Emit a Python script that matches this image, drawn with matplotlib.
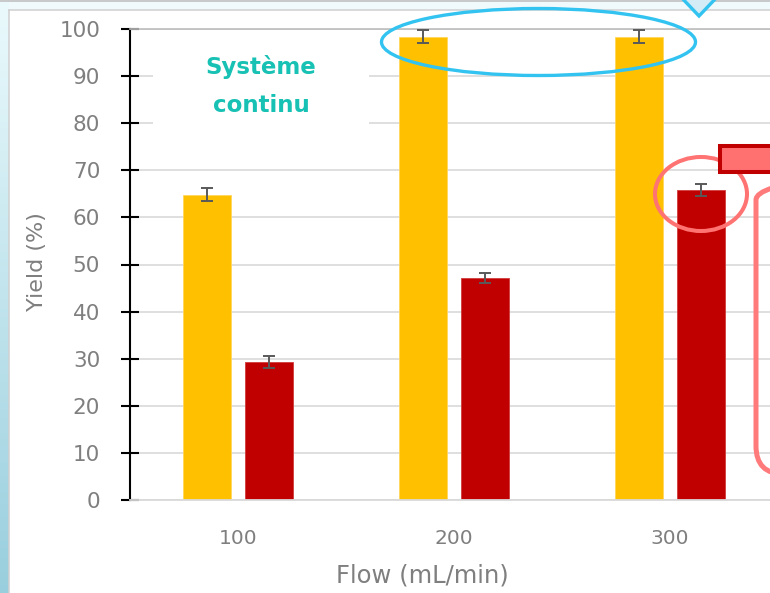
import numpy as np
import matplotlib
matplotlib.use("Agg")
import matplotlib.pyplot as plt
import matplotlib.patches as patches
from matplotlib.transforms import IdentityTransform

# --- données ---
flows = ["100", "200", "300"]
yield_a = [64.8, 98.4, 98.4]       # barres jaunes
err_a = [1.35, 1.4, 1.35]
yield_b = [29.3, 47.2, 65.8]       # barres rouges
err_b = [1.3, 1.1, 1.35]

W, H = 770, 593
cor_jaune = '#FFC000'
cor_vermelho = '#C00000'
cor_texto = '#7f7f7f'
cor_grade = '#d9d9d9'

fig = plt.figure(figsize=(W / 100, H / 100), dpi=100, facecolor='white')

def px(x, y):
    # coordonnées image (origine en haut à gauche) -> pixels d'affichage
    return x, H - y

# --- fond de diapositive : bande à gauche + bande en haut ---
ax_bg = fig.add_axes([0, 0, 9 / W, 1])
grad = np.linspace(0, 1, 200)[:, None]
top_c = np.array([0.92, 0.98, 0.99])
bot_c = np.array([0.60, 0.81, 0.87])
img = top_c[None, None, :] * (1 - grad[:, :, None]) + bot_c[None, None, :] * grad[:, :, None]
ax_bg.imshow(img, aspect='auto', extent=[0, 1, 0, 1])
ax_bg.axis('off')

fig.add_artist(patches.Rectangle(px(9, 10), W, 10, transform=IdentityTransform(),
                                 fc='#f0fafd', ec='none', zorder=0))
fig.add_artist(plt.Line2D([0, W], [H - 1, H - 1], transform=IdentityTransform(),
                          color='#c0c0c0', lw=1.2))
fig.add_artist(plt.Line2D([9, W], [H - 10, H - 10], transform=IdentityTransform(),
                          color='#d0d0d0', lw=1.1))
fig.add_artist(plt.Line2D([9, 9], [0, H - 10], transform=IdentityTransform(),
                          color='#d0d0d0', lw=1.1))

# --- graphique ---
x0, x1 = 130, 778
y_top, y_bot = 29, 500
ax = fig.add_axes([x0 / W, (H - y_bot) / H, (x1 - x0) / W, (y_bot - y_top) / H])
ax.set_facecolor('none')

x = np.arange(len(flows))
larg = 0.2245
dx = 0.1426
ax.bar(x - dx, yield_a, larg, color=cor_jaune, ec='#ffd65c', lw=0.6, zorder=2)
ax.bar(x + dx, yield_b, larg, color=cor_vermelho, ec='#d23a3a', lw=0.6, zorder=2)
ax.errorbar(x - dx, yield_a, yerr=err_a, fmt='none', ecolor='#595959',
            elinewidth=1.4, capsize=4.3, capthick=1.4, zorder=3)
ax.errorbar(x + dx, yield_b, yerr=err_b, fmt='none', ecolor='#595959',
            elinewidth=1.4, capsize=4.3, capthick=1.4, zorder=3)

ax.set_xlim(-0.5, 2.5)
ax.set_ylim(0, 100)
ax.set_yticks(range(0, 101, 10))
ax.set_xticks(x)
ax.set_xticklabels(flows)
ax.set_axisbelow(True)
ax.yaxis.grid(True, color=cor_grade, lw=1.2)

ax.spines['right'].set_visible(False)
ax.spines['top'].set_color('#bdbdbd')
ax.spines['top'].set_linewidth(1.2)
ax.spines['bottom'].set_color(cor_grade)
ax.spines['bottom'].set_linewidth(1.3)
ax.spines['left'].set_color('black')
ax.spines['left'].set_linewidth(1.5)
ax.tick_params(axis='y', direction='inout', length=13, width=1.5, color='black',
               labelsize=15.5, labelcolor=cor_texto, pad=15)
ax.tick_params(axis='x', length=0, labelsize=14.5, labelcolor=cor_texto, pad=21)

fig.text(422 / W, (H - 575) / H, "Flow (mL/min)", ha='center', va='center',
         fontsize=17.5, color=cor_texto)
fig.text(37 / W, (H - 262) / H, "Yield (%)", ha='center', va='center',
         rotation=90, fontsize=16, color=cor_texto)

# encadré blanc derrière le texte
ax.add_patch(patches.Rectangle(px(153, 160), 216, 125, transform=IdentityTransform(),
                               fc='white', ec='none', zorder=1, clip_on=False))
fig.text(261 / W, (H - 74) / H, "Système", ha='center', va='baseline',
         fontsize=16.5, fontweight='bold', color='#17c1b3')
fig.text(261 / W, (H - 112) / H, "continu", ha='center', va='baseline',
         fontsize=16.5, fontweight='bold', color='#17c1b3')

# --- formes d'annotation ---
fig.add_artist(patches.Ellipse(px(538.5, 42), 314, 67, transform=IdentityTransform(),
                               fc='none', ec='#33c3f0', lw=2.4, zorder=5))
fig.add_artist(patches.Polygon([px(660, -25), px(738, -25), px(699, 16)], closed=True,
                               transform=IdentityTransform(), fc='#d3ecf5',
                               ec='#33c3f0', lw=2.4, zorder=5))
fig.add_artist(patches.Ellipse(px(701, 194), 92, 74, transform=IdentityTransform(),
                               fc='none', ec='#ff7373', lw=2.9, zorder=5))
fig.add_artist(patches.FancyBboxPatch(px(756, 474), 300, 302,
                                      boxstyle='round,pad=0,rounding_size=28',
                                      transform=IdentityTransform(), fc='none',
                                      ec='#ff7b7b', lw=3.6, zorder=5))
fig.add_artist(patches.Rectangle(px(720, 172), 120, 26, transform=IdentityTransform(),
                                 fc='#ff7070', ec='#c00000', lw=2.9, zorder=6))

fig.savefig('out.png', dpi=100, facecolor=fig.get_facecolor())
